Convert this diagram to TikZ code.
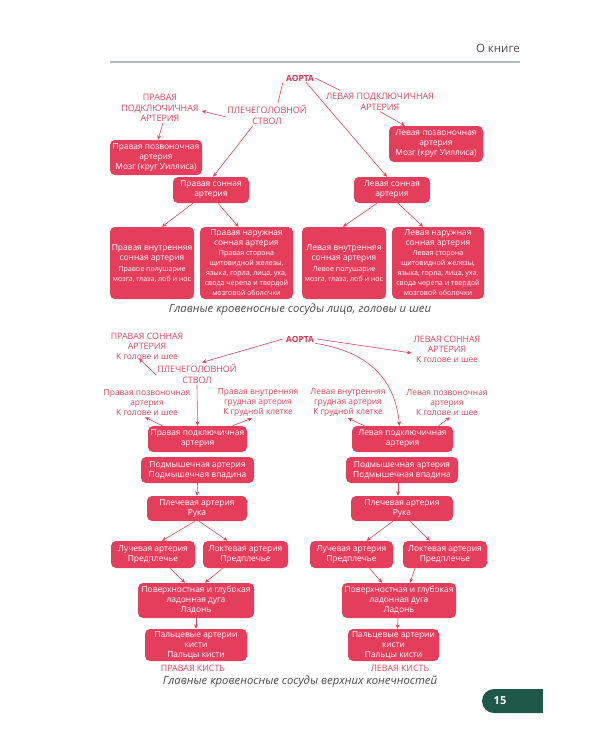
\documentclass[tikz,border=0pt]{standalone}
\usepackage{fontspec}
\setmainfont{Open Sans}
\usetikzlibrary{arrows.meta,calc}
\definecolor{boxc}{HTML}{E53E5D}
\definecolor{labc}{HTML}{D9455F}
\definecolor{aortc}{HTML}{D6304F}
\definecolor{capc}{HTML}{4A4A4A}
\definecolor{rulec}{HTML}{AEBCC0}
\definecolor{badgec}{HTML}{1F5848}
\newcommand{\mybig}{\fontsize{8.4}{10}\selectfont}
\newcommand{\mysmall}{\fontsize{7.1}{9.6}\selectfont}
\newcommand{\mylow}{\fontsize{8.4}{10}\selectfont}
\begin{document}
\begin{tikzpicture}[x=1pt,y=-1pt,
  bx/.style={fill=boxc, rounded corners=5pt, text=white, align=center, inner sep=0pt, font=\mybig},
  lab/.style={text=labc, align=center, inner sep=1pt, font=\fontsize{8.9}{10.5}\selectfont},
  lab2/.style={text=labc, align=center, inner sep=1pt, font=\fontsize{8.8}{10}\selectfont},
  aort/.style={text=aortc, inner sep=1pt, font=\fontsize{8.4}{10}\selectfont\bfseries},
  arr/.style={draw=labc, line width=0.6pt, -{Stealth[length=4.5pt,width=4pt]}},
  ln/.style={draw=labc, line width=0.6pt},
  captxt/.style={text=capc, font=\fontsize{11.3}{12}\selectfont\itshape}]
\useasboundingbox (0,0) rectangle (600,750);
% header
\node[anchor=east, text=capc, font=\fontsize{11.5}{12}\selectfont, inner sep=0pt] (hdr) at (520,48) {О книге};
\draw[rulec, line width=1.3pt] (110,62) -- (520,62);
% ===== top diagram =====
\node[aort] (A1) at (300,78) {АОРТА};
\node[lab] (ppa) at (160,108) {ПРАВАЯ\\ПОДКЛЮЧИЧНАЯ\\АРТЕРИЯ};
\node[lab] (pgs) at (267,115) {ПЛЕЧЕГОЛОВНОЙ\\СТВОЛ};
\node[lab] (lpa) at (380,102) {ЛЕВАЯ ПОДКЛЮЧИЧНАЯ\\АРТЕРИЯ};
\node[bx, minimum width=92pt, minimum height=35pt] (bppoz) at (156,157.5) {Правая позвоночная\\артерия\\Мозг (круг Уиллиса)};
\node[bx, minimum width=94pt, minimum height=36pt] (blpoz) at (436,144) {Левая позвоночная\\артерия\\Мозг (круг Уиллиса)};
\node[bx, minimum width=76pt, minimum height=26pt] (bps) at (211,190) {Правая сонная\\артерия};
\node[bx, minimum width=76pt, minimum height=26pt] (bls) at (392,190) {Левая сонная\\артерия};
\node[bx, minimum width=84pt, minimum height=72pt] (bpv) at (152,263) {Правая внутренняя\\сонная артерия\\[1pt]\mysmall Правое полушарие\\\mysmall мозга, глаза, лоб и нос};
\node[bx, minimum width=93pt, minimum height=72pt] (bpn) at (246.5,263) {Правая наружная\\сонная артерия\\\mysmall Правая сторона\\\mysmall щитовидной железы,\\\mysmall языка, горла, лица, уха,\\\mysmall свода черепа и твердой\\\mysmall мозговой оболочки};
\node[bx, minimum width=84pt, minimum height=72pt] (blv) at (344,263) {Левая внутренняя\\сонная артерия\\[1pt]\mysmall Левое полушарие\\\mysmall мозга, глаза, лоб и нос};
\node[bx, minimum width=92pt, minimum height=72pt] (bln) at (438,263) {Левая наружная\\сонная артерия\\\mysmall Левая сторона\\\mysmall щитовидной железы,\\\mysmall языка, горла, лица, уха,\\\mysmall свода черепа и твердой\\\mysmall мозговой оболочки};
\node[captxt] (cap1) at (300,310) {Главные кровеносные сосуды лица, головы и шеи};
% top connectors
\draw[ln] ([xshift=-2pt]A1.south west) -- ([xshift=-30pt,yshift=1pt]pgs.north east);
\draw[ln] (A1.east) -- ([xshift=-40pt,yshift=2pt]lpa.north);
\draw[arr] ([yshift=-2pt]pgs.west) -- ([xshift=2pt,yshift=-3pt]ppa.east);
\draw[arr] ([xshift=3pt]ppa.south) -- ([xshift=2pt]bppoz.north);
\draw[arr] ([xshift=-14pt]pgs.south) -- ([xshift=2pt]bps.north);
\draw[arr] ([xshift=0pt]lpa.south) -- ([xshift=-31pt]blpoz.north);
\draw[arr] ([xshift=6pt]A1.south) -- ([xshift=-5pt]bls.north);
\draw[arr] ([xshift=-18pt]bps.south) -- ([xshift=10pt]bpv.north);
\draw[arr] ([xshift=7pt]bps.south) -- ([xshift=-8pt]bpn.north);
\draw[arr] ([xshift=-15pt]bls.south) -- ([xshift=-1pt]blv.north);
\draw[arr] ([xshift=6pt]bls.south) -- ([xshift=-15pt]bln.north);
% ===== lower diagram =====
\node[aort] (A2) at (300,339) {АОРТА};
\node[lab2] (psa) at (147,346) {ПРАВАЯ СОННАЯ\\АРТЕРИЯ\\\mylow К голове и шее};
\node[lab] (pgs2) at (197,374) {ПЛЕЧЕГОЛОВНОЙ\\СТВОЛ};
\node[lab2] (lsa) at (447,349) {ЛЕВАЯ СОННАЯ\\АРТЕРИЯ\\\mylow К голове и шее};
\node[lab2, font=\mylow] (ppz) at (147,403) {Правая позвоночная\\артерия\\К голове и шее};
\node[lab2, font=\mylow] (pvg) at (258,403) {Правая внутренняя\\грудная артерия\\К грудной клетке};
\node[lab2, font=\mylow] (lvg) at (348,403) {Левая внутренняя\\грудная артерия\\К грудной клетке};
\node[lab2, font=\mylow] (lpz) at (447,403) {Левая позвоночная\\артерия\\К голове и шее};
% right arm chain (left side)
\node[bx, minimum width=99pt, minimum height=26pt] (bpp) at (197.5,439) {Правая подключичная\\артерия};
\node[bx, minimum width=113pt, minimum height=26pt] (bpm) at (197.5,470) {Подмышечная артерия\\Подмышечная впадина};
\node[bx, minimum width=100pt, minimum height=25pt] (bpl) at (197,508.5) {Плечевая артерия\\Рука};
\node[bx, minimum width=84pt, minimum height=27pt] (bpu) at (153,554.5) {Лучевая артерия\\Предплечье};
\node[bx, minimum width=85pt, minimum height=27pt] (bpk) at (245.5,554.5) {Локтевая артерия\\Предплечье};
\node[bx, minimum width=116pt, minimum height=35pt] (bpd) at (196,600.5) {Поверхностная и глубокая\\ладонная дуга\\Ладонь};
\node[bx, minimum width=102pt, minimum height=32pt] (bpf) at (196,645) {Пальцевые артерии\\кисти\\Пальцы кисти};
\node[lab2] (pk) at (193,668) {ПРАВАЯ КИСТЬ};
% left arm chain (right side)
\node[bx, minimum width=101pt, minimum height=26pt] (blp) at (402.5,439) {Левая подключичная\\артерия};
\node[bx, minimum width=112pt, minimum height=26pt] (blm) at (402,470) {Подмышечная артерия\\Подмышечная впадина};
\node[bx, minimum width=102pt, minimum height=25pt] (blpl) at (402,508.5) {Плечевая артерия\\Рука};
\node[bx, minimum width=83pt, minimum height=27pt] (blu) at (351.5,554.5) {Лучевая артерия\\Предплечье};
\node[bx, minimum width=84pt, minimum height=27pt] (blk) at (445,554.5) {Локтевая артерия\\Предплечье};
\node[bx, minimum width=114pt, minimum height=35pt] (bld) at (399,600.5) {Поверхностная и глубокая\\ладонная дуга\\Ладонь};
\node[bx, minimum width=91pt, minimum height=32pt] (blf) at (393.5,645) {Пальцевые артерии\\кисти\\Пальцы кисти};
\node[lab2] (lk) at (400,668) {ЛЕВАЯ КИСТЬ};
\node[captxt] (cap2) at (300,682) {Главные кровеносные сосуды верхних конечностей};
% lower connectors
\draw[arr] ([xshift=-2pt]A2.west) -- ([xshift=5pt,yshift=1pt]pgs2.north);
\draw[arr] ([yshift=-1pt]pgs2.west) -- ([xshift=-8pt,yshift=2pt]psa.south);
\draw[arr] (pgs2.south) -- (bpp.north);
\draw[arr] ([xshift=-35pt]bpp.north) -- ([xshift=-2pt]ppz.south);
\draw[arr] ([xshift=35pt]bpp.north) -- ([xshift=-6pt]pvg.south);
\draw[arr] ([xshift=2pt]A2.east) -- ([xshift=-1pt,yshift=-4pt]lsa.west);
\draw[arr] (A2.south east) .. controls (370,352) and (395,380) .. ([xshift=-3pt]blp.north);
\draw[arr] ([xshift=-38pt]blp.north) -- ([xshift=0pt]lvg.south);
\draw[arr] ([xshift=36pt]blp.north) -- ([xshift=3pt]lpz.south);
\draw[arr] (bpm.south) -- (bpl.north);
\draw[arr] ([xshift=-2pt]bpl.south) -- ([xshift=9pt]bpu.north);
\draw[arr] ([xshift=2pt]bpl.south) -- ([xshift=-18pt]bpk.north);
\draw[arr] ([xshift=17pt]bpu.south) -- ([xshift=-11pt]bpd.north);
\draw[arr] ([xshift=-23pt]bpk.south) -- ([xshift=9pt]bpd.north);
\draw[arr] (bpd.south) -- (bpf.north);
\draw[arr] ([xshift=-4pt]blm.south) -- ([xshift=-4pt]blpl.north);
\draw[arr] ([xshift=-9pt]blpl.south) -- ([xshift=15pt]blu.north);
\draw[arr] ([xshift=8pt]blpl.south) -- ([xshift=-15pt]blk.north);
\draw[arr] ([xshift=18pt]blu.south) -- ([xshift=-17pt]bld.north);
\draw[arr] ([xshift=-30pt]blk.south) -- ([xshift=11pt]bld.north);
\draw[arr] ([xshift=-1pt]bld.south) -- ([xshift=4pt]blf.north);
% page badge
\fill[badgec, rounded corners=12pt] (482,689) rectangle (560,713);
\fill[badgec] (530,689) rectangle (543,713);
\fill[white] (543,686) rectangle (562,715);
\node[text=white, font=\fontsize{11}{12}\selectfont\bfseries] (pg) at (500,701) {15};
\end{tikzpicture}
\end{document}
